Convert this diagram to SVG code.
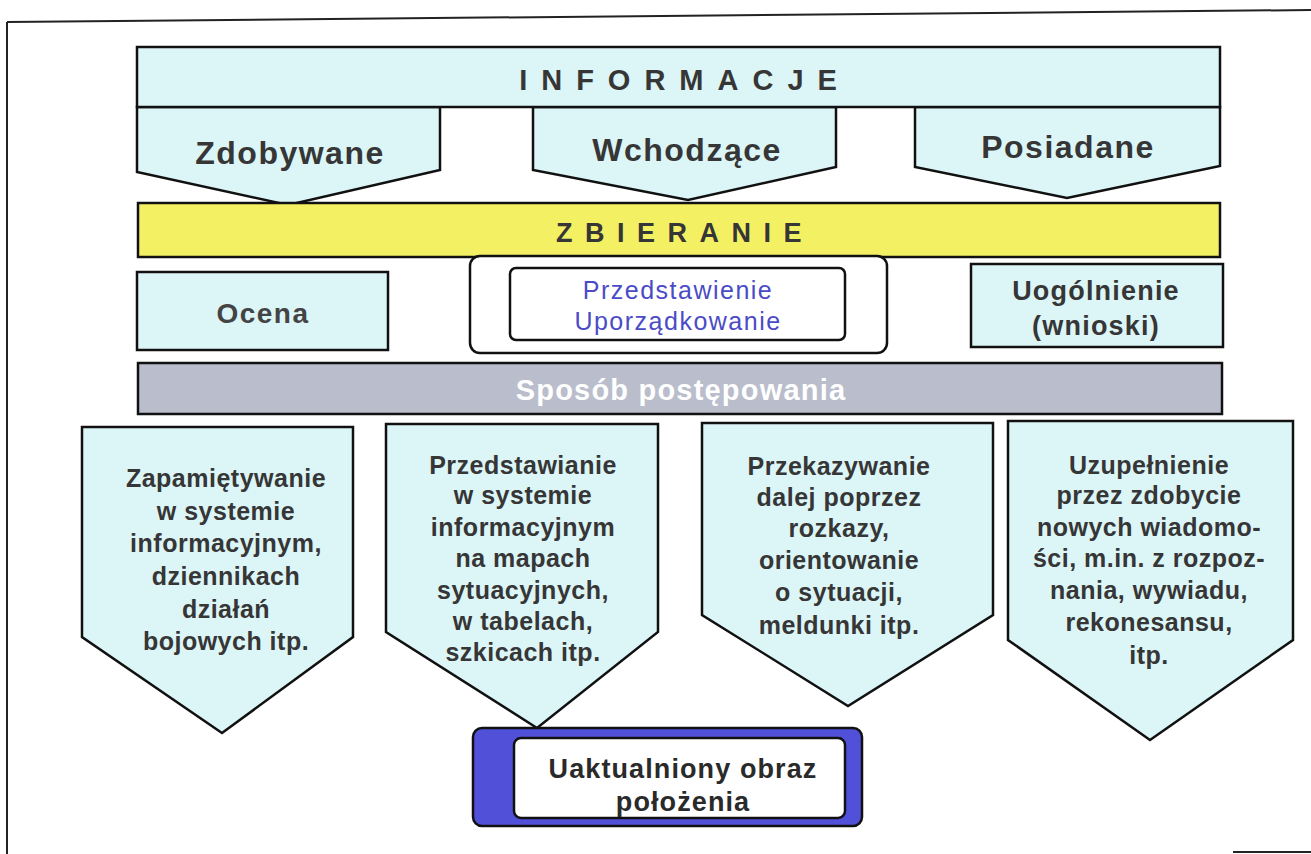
<svg xmlns="http://www.w3.org/2000/svg" width="1311" height="854" viewBox="0 0 1311 854">
<style>
.fr{fill:none;stroke:#222;stroke-width:2}
.cy{fill:#dcf5f7;stroke:#111;stroke-width:2.5}
.yl{fill:#f4f064;stroke:#111;stroke-width:2.5}
.gr{fill:#b9bdcc;stroke:#111;stroke-width:2.5}
.wh{fill:#fff;stroke:#111;stroke-width:2.5}
.bl{fill:#5050d8;stroke:#111;stroke-width:2.5}
text{font-family:"Liberation Sans",Arial,sans-serif;text-anchor:middle;font-weight:bold;fill:#363636}
.big{font-size:32px;letter-spacing:1.5px}
.sp{font-size:29px;letter-spacing:14px}
.sp2{font-size:27px;letter-spacing:12.5px}
.oc{font-size:28px;letter-spacing:1.5px;fill:#444}
.mid{font-size:27px;letter-spacing:1.2px}
.blu{font-size:25px;letter-spacing:1.5px;font-weight:normal;fill:#4b4bc6}
.wt{font-size:29px;letter-spacing:1.2px;fill:#fff}
.body{font-size:25px;letter-spacing:0.5px}
.ua{font-size:27px;letter-spacing:1.1px;fill:#2a2a2a}
</style>
<g id="frame">
<line class="fr" x1="7" y1="22" x2="1311" y2="10"/>
<line class="fr" x1="7" y1="22" x2="7" y2="854"/>
<line class="fr" x1="1233" y1="852" x2="1311" y2="852"/>
</g>
<g id="zdobywane">
<polygon class="cy" points="137,107 440,107 440,170 288,205 137,172"/>
<text class="big" x="290" y="164">Zdobywane</text>
</g>
<g id="wchodzace">
<polygon class="cy" points="533,107 836,107 836,167 688,200 533,170"/>
<text class="big" x="687" y="161">Wchodzące</text>
</g>
<g id="posiadane">
<polygon class="cy" points="915,107 1220,107 1220,166 1067,198 915,167"/>
<text class="big" x="1068" y="158">Posiadane</text>
</g>
<g id="informacje">
<rect class="cy" x="137" y="47" width="1083" height="60"/>
<text class="sp" x="685" y="90">INFORMACJE</text>
</g>
<g id="zbieranie">
<rect class="yl" x="138" y="203" width="1082" height="54"/>
<text class="sp2" x="685" y="242">ZBIERANIE</text>
</g>
<g id="ocena">
<rect class="cy" x="137" y="272" width="251" height="78"/>
<text class="oc" x="263" y="323">Ocena</text>
</g>
<g id="przedstawienie">
<rect class="wh" x="470" y="256" width="417" height="97" rx="10"/>
<rect class="wh" x="510" y="268" width="335" height="72" rx="6"/>
<text class="blu" x="678" y="299">Przedstawienie</text>
<text class="blu" x="678" y="330">Uporządkowanie</text>
</g>
<g id="uogolnienie">
<rect class="cy" x="971" y="264" width="252" height="83"/>
<text class="mid" x="1096" y="300">Uogólnienie</text>
<text class="mid" x="1096" y="335">(wnioski)</text>
</g>
<g id="sposob">
<rect class="gr" x="138" y="363" width="1084" height="51"/>
<text class="wt" x="681" y="400">Sposób postępowania</text>
</g>
<g id="zapamietywanie">
<polygon class="cy" points="82,427 353,427 353,637 222,733 82,637"/>
<text class="body" x="226"><tspan x="226" y="487">Zapamiętywanie</tspan><tspan x="226" y="520">w systemie</tspan><tspan x="226" y="552">informacyjnym,</tspan><tspan x="226" y="585">dziennikach</tspan><tspan x="226" y="618">działań</tspan><tspan x="226" y="650">bojowych itp.</tspan></text>
</g>
<g id="przedstawianie">
<polygon class="cy" points="386,424 658,424 658,632 537,728 386,632"/>
<text class="body" x="523"><tspan x="523" y="474">Przedstawianie</tspan><tspan x="523" y="504">w systemie</tspan><tspan x="523" y="536">informacyjnym</tspan><tspan x="523" y="567">na mapach</tspan><tspan x="523" y="599">sytuacyjnych,</tspan><tspan x="523" y="630">w tabelach,</tspan><tspan x="523" y="661">szkicach itp.</tspan></text>
</g>
<g id="przekazywanie">
<polygon class="cy" points="702,423 993,423 993,615 848,706 702,615"/>
<text class="body" x="839"><tspan x="839" y="475">Przekazywanie</tspan><tspan x="839" y="506">dalej poprzez</tspan><tspan x="839" y="537">rozkazy,</tspan><tspan x="839" y="569">orientowanie</tspan><tspan x="839" y="601">o sytuacji,</tspan><tspan x="839" y="634">meldunki itp.</tspan></text>
</g>
<g id="uzupelnienie">
<polygon class="cy" points="1008,421 1293,421 1293,640 1150,740 1008,640"/>
<text class="body" x="1149"><tspan x="1149" y="474">Uzupełnienie</tspan><tspan x="1149" y="504">przez zdobycie</tspan><tspan x="1149" y="536">nowych wiadomo-</tspan><tspan x="1149" y="567">ści, m.in. z rozpoz-</tspan><tspan x="1149" y="599">nania, wywiadu,</tspan><tspan x="1149" y="631">rekonesansu,</tspan><tspan x="1149" y="664">itp.</tspan></text>
</g>
<g id="obraz">
<rect class="bl" x="473" y="728" width="389" height="98" rx="9"/>
<rect class="wh" x="514" y="738" width="331" height="80" rx="7"/>
<text class="ua" x="683" y="778">Uaktualniony obraz</text>
<text class="ua" x="683" y="811">położenia</text>
</g>
<g id="connectors"></g>
</svg>
